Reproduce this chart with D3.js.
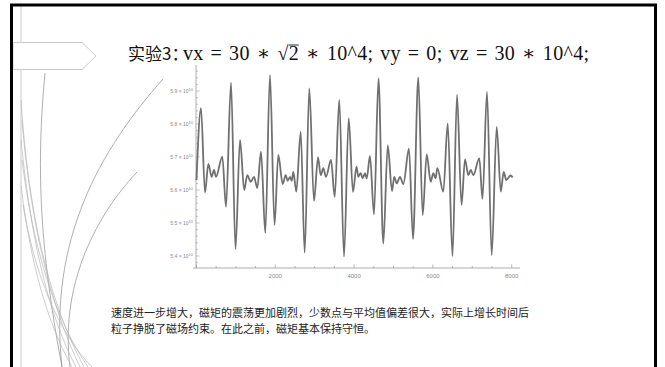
<!DOCTYPE html>
<html>
<head>
<meta charset="utf-8">
<script src="https://cdn.jsdelivr.net/npm/d3@7"></script>
<style>
  html, body { margin: 0; padding: 0; background: #fff; }
  svg { display: block; }
</style>
</head>
<body>
<div id="slide"></div>
<script>
// time steps of the turning points
var steps = [0, 114, 216, 300, 386, 444, 495, 655, 749, 876, 990, 1104, 1211, 1289, 1376, 1459, 1543, 1637, 1746, 1865,
    1980, 2076, 2188, 2264, 2315, 2373, 2416, 2457, 2533, 2645, 2746, 2863, 2982, 3084, 3152, 3218, 3287, 3414, 3508, 3624,
    3744, 3863, 3972, 4061, 4107, 4168, 4218, 4277, 4320, 4403, 4505, 4619, 4741, 4855, 4962, 5020, 5081, 5165, 5249, 5393,
    5495, 5629, 5741, 5843, 5944, 6010, 6066, 6112, 6264, 6376, 6497, 6612, 6726, 6815, 6899, 6960, 7026, 7178, 7259, 7373,
    7492, 7619, 7723, 7797, 7863, 7969, 8025];
// magnetic moment, in units of 10^10
var moment = [5.63, 5.848, 5.592, 5.679, 5.640, 5.661, 5.640, 5.701, 5.549, 5.925, 5.421, 5.752, 5.600, 5.645, 5.625, 5.640, 5.606, 5.716, 5.470, 5.948,
    5.494, 5.706, 5.618, 5.645, 5.628, 5.640, 5.628, 5.655, 5.595, 5.777, 5.410, 5.908, 5.567, 5.699, 5.645, 5.666, 5.640, 5.691, 5.579, 5.873,
    5.398, 5.817, 5.594, 5.671, 5.640, 5.651, 5.635, 5.651, 5.635, 5.703, 5.526, 5.938, 5.438, 5.735, 5.597, 5.640, 5.620, 5.640, 5.618, 5.725,
    5.452, 5.941, 5.524, 5.708, 5.625, 5.651, 5.635, 5.666, 5.595, 5.802, 5.400, 5.888, 5.555, 5.693, 5.645, 5.661, 5.645, 5.696, 5.573, 5.897,
    5.403, 5.791, 5.595, 5.655, 5.630, 5.644, 5.638];

var xTicks = [2000, 4000, 6000, 8000];
var yTicks = [5.4, 5.5, 5.6, 5.7, 5.8, 5.9];

var titleCn = '实验3：';
var titleParts = ['vx\u2004=\u200430\u2004∗\u2004√', '2', '\u2004∗\u200410^4;\u2004vy\u2004=\u20040;\u2004vz\u2004=\u200430\u2004∗\u200410^4;'];
var notes = ['速度进一步增大，磁矩的震荡更加剧烈，少数点与平均值偏差很大，实际上增长时间后',
    '粒子挣脱了磁场约束。在此之前，磁矩基本保持守恒。'];

var W = 665, H = 367;
var svg = d3.select('#slide').append('svg').attr('width', W).attr('height', H);
svg.append('rect').attr('width', W).attr('height', H).attr('fill', '#fff');

// decoration on the left
var deco = svg.append('g').attr('fill', 'none').attr('stroke', '#b5b5b5').attr('stroke-width', 0.7);
deco.append('line').attr('x1', 21).attr('y1', 6).attr('x2', 21).attr('y2', H);
var decoPaths = [
    'M45,73 C38,150 36,230 62,367',
    'M163,79 C100,150 48,240 62,367',
    'M137,172 C92,220 60,290 70,367',
    'M21,100 C28,210 48,300 84,367',
    'M22,120 C30,220 50,305 80,367',
    'M21,140 C30,230 46,310 76,367',
    'M22,160 C32,240 52,315 88,367',
    'M21,185 C30,260 46,320 72,367',
    'M23,205 C34,270 56,330 92,367'
];
deco.selectAll('path.deco').data(decoPaths).enter().append('path')
    .attr('class', 'deco').attr('d', function (d) { return d; })
    .attr('stroke', function (d, i) { return i < 3 ? '#8d8d8d' : '#b8b8b8'; });
svg.append('path').attr('d', 'M13,42.5 L82,42.5 L96,56 L82,69.5 L13,69.5 Z')
    .attr('fill', '#fff').attr('stroke', '#bdbdbd').attr('stroke-width', 0.8);

// frame
svg.append('rect').attr('x', 11.5).attr('y', 5).attr('width', 644).attr('height', 400)
    .attr('fill', 'none').attr('stroke', '#000').attr('stroke-width', 3);

// title
svg.append('text').attr('x', 128).attr('y', 60).attr('fill', '#111')
    .attr('font-family', '"Noto Sans CJK SC", sans-serif').attr('font-size', 17).text(titleCn);
var title = svg.append('text').attr('x', 183).attr('y', 60).attr('fill', '#111')
    .attr('font-family', '"Liberation Serif", "DejaVu Serif", serif').attr('font-size', 20)
    .attr('textLength', 406).attr('lengthAdjust', 'spacing');
titleParts.forEach(function (p) {
    title.append('tspan').text(p);
});
var box = title.node().getExtentOfChar(titleParts[0].length);
svg.append('line').attr('x1', box.x).attr('x2', box.x + box.width)
    .attr('y1', box.y + 3).attr('y2', box.y + 3).attr('stroke', '#111').attr('stroke-width', 0.9);

// plot
var x = d3.scaleLinear().domain([0, 8000]).range([196.5, 511.7]);
var y = d3.scaleLinear().domain([5.4, 5.9]).range([256, 91]);
var axisColor = '#9a9a9a';
var plot = svg.append('g');

plot.append('line').attr('x1', 193).attr('x2', 520).attr('y1', 268).attr('y2', 268)
    .attr('stroke', axisColor).attr('stroke-width', 0.8);
plot.append('line').attr('x1', 196).attr('x2', 196).attr('y1', 65).attr('y2', 268)
    .attr('stroke', axisColor).attr('stroke-width', 0.8);

var xMinor = d3.range(0, 8001, 500);
plot.selectAll('.xtick').data(xMinor).enter().append('line')
    .attr('x1', x).attr('x2', x).attr('y1', 268)
    .attr('y2', function (d) { return d % 2000 === 0 ? 264.5 : 266; })
    .attr('stroke', axisColor).attr('stroke-width', 0.7);
plot.selectAll('.xlab').data(xTicks).enter().append('text')
    .attr('x', x).attr('y', 277.5).attr('text-anchor', 'middle')
    .attr('font-family', '"Liberation Sans", sans-serif').attr('font-size', 6).attr('fill', '#888')
    .text(function (d) { return d; });

var yMinor = d3.range(5.38, 5.97, 0.02);
plot.selectAll('.ytick').data(yMinor).enter().append('line')
    .attr('x1', 196).attr('y1', y).attr('y2', y)
    .attr('x2', function (d) { return Math.abs(Math.round(d * 10) - d * 10) < 0.01 ? 199.5 : 198; })
    .attr('stroke', axisColor).attr('stroke-width', 0.6);
var ylab = plot.selectAll('.ylab').data(yTicks).enter().append('text')
    .attr('x', 193).attr('y', function (d) { return y(d) + 2; }).attr('text-anchor', 'end')
    .attr('font-family', '"Liberation Sans", sans-serif').attr('font-size', 5).attr('fill', '#888');
ylab.append('tspan').text(function (d) { return d.toFixed(1) + ' × 10'; });
ylab.append('tspan').attr('dy', -2.5).attr('font-size', 4).text('10');

var series = steps.map(function (s, i) { return [s, moment[i]]; });
var line = d3.line().x(function (d) { return x(d[0]); }).y(function (d) { return y(d[1]); })
    .curve(d3.curveMonotoneX);
plot.append('path').datum(series).attr('d', line)
    .attr('fill', 'none').attr('stroke', '#707070').attr('stroke-width', 1.8);

// notes
svg.selectAll('.note').data(notes).enter().append('text')
    .attr('x', 111).attr('y', function (d, i) { return 317 + i * 15.5; })
    .attr('font-family', '"Noto Sans CJK SC", sans-serif').attr('font-size', 11).attr('fill', '#222')
    .text(function (d) { return d; });
</script>
</body>
</html>
